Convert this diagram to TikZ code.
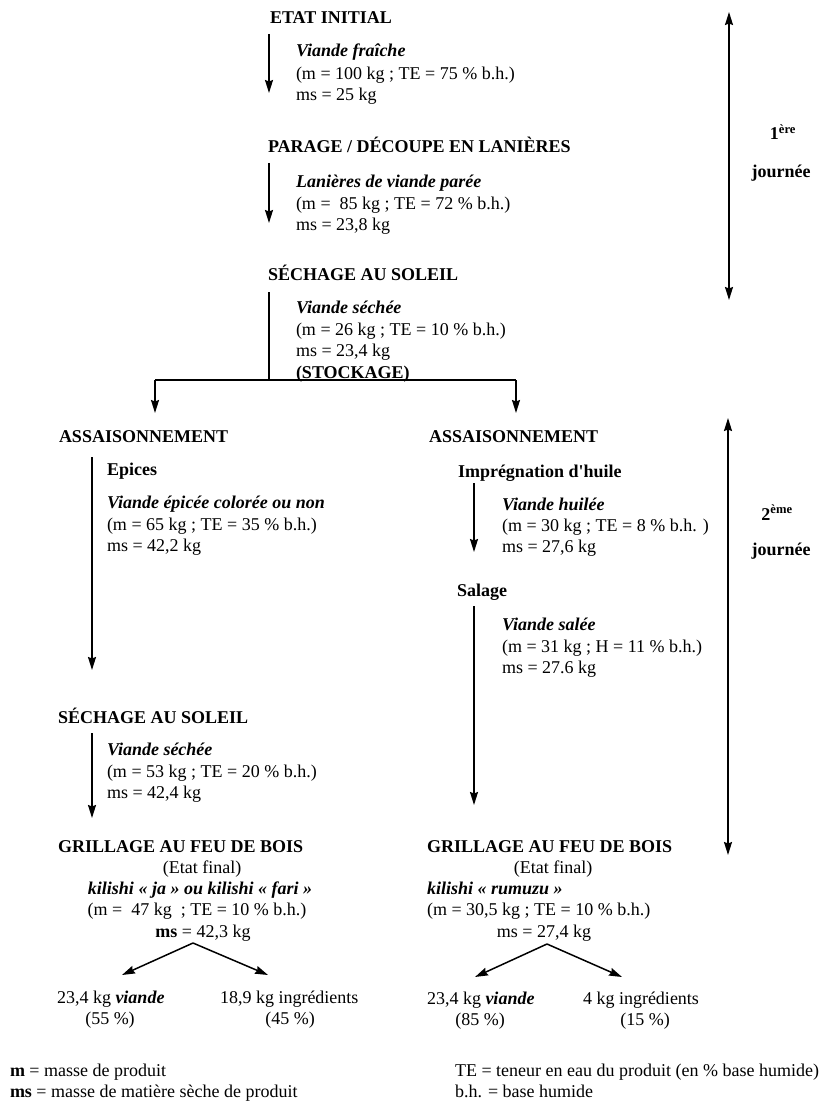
\documentclass[tikz,border=0pt]{standalone}
\usepackage{fontspec}
\setmainfont{Liberation Serif}
\usetikzlibrary{arrows.meta}
\begin{document}
\begin{tikzpicture}[x=1pt,y=-1pt,
  every node/.style={inner sep=0pt, outer sep=0pt},
  tx/.style={anchor=base west, font=\fontsize{18}{21}\selectfont},
  txc/.style={anchor=base, font=\fontsize{18}{21}\selectfont},
  hd/.style={anchor=base west, font=\fontsize{18}{21}\selectfont\bfseries},
  hdc/.style={anchor=base, font=\fontsize{18}{21}\selectfont\bfseries},
  pr/.style={anchor=base west, font=\fontsize{18}{21}\selectfont\bfseries\itshape},
  prc/.style={anchor=base, font=\fontsize{18}{21}\selectfont\bfseries\itshape},
  ft/.style={anchor=base west, font=\fontsize{18}{21}\selectfont},
  flow/.style={line width=1.5pt, -{Stealth[length=13pt,width=8pt,inset=1.5pt]}},
  ln/.style={line width=1.5pt},
  dbl/.style={line width=1.5pt, {Stealth[length=13pt,width=8pt,inset=1.5pt]}-{Stealth[length=13pt,width=8pt,inset=1.5pt]}}
]
\useasboundingbox[fill=white] (0,0) rectangle (835,1110);

% ---------- top column ----------
\node[hd] (s1) at (270,24) {ETAT INITIAL};
\node[pr] (p1) at (296,57) {Viande fraîche};
\node[tx] (p1a) at (296,80) {(m = 100 kg ; TE = 75 \% b.h.)};
\node[tx] (p1b) at (296,101) {ms = 25 kg};
\coordinate (a1s) at (269,34); \coordinate (a1e) at (269,93);
\draw[flow] (a1s) -- (a1e);

\node[hd] (s2) at (268,153) {PARAGE / DÉCOUPE EN LANIÈRES};
\node[pr] (p2) at (296,187) {Lanières de viande parée};
\node[tx] (p2a) at (296,209) {(m = ~85 kg ; TE = 72 \% b.h.)};
\node[tx] (p2b) at (296,230) {ms = 23,8 kg};
\coordinate (a2s) at (269,163); \coordinate (a2e) at (269,223);
\draw[flow] (a2s) -- (a2e);

\node[hd] (s3) at (268,280) {SÉCHAGE AU SOLEIL};
\node[pr] (p3) at (296,313) {Viande séchée};
\node[tx] (p3a) at (296,335) {(m = 26 kg ; TE = 10 \% b.h.)};
\node[tx] (p3b) at (296,356) {ms = 23,4 kg};
\node[hd] (p3c) at (296,378) {(STOCKAGE)};
\coordinate (a3s) at (269,292); \coordinate (br) at (269,380);
\coordinate (brL) at (155,380); \coordinate (brR) at (516,380);
\coordinate (brLe) at (155,413); \coordinate (brRe) at (516,413);
\draw[ln] (a3s) -- (br);
\draw[ln] (brL) -- (brR);
\draw[flow] (brL) -- (brLe);
\draw[flow] (brR) -- (brRe);

% ---------- day markers ----------
\coordinate (d1t) at (729,12); \coordinate (d1b) at (729,300);
\draw[dbl] (d1t) -- (d1b);
\node[hdc] (j1a) at (783,140) {1\textsuperscript{ère}};
\node[hdc] (j1b) at (781,178) {journée};
\coordinate (d2t) at (728,418); \coordinate (d2b) at (728,855);
\draw[dbl] (d2t) -- (d2b);
\node[hdc] (j2a) at (777,520) {2\textsuperscript{ème}};
\node[hdc] (j2b) at (781,555) {journée};

% ---------- left column ----------
\node[hd] (L1) at (59,442) {ASSAISONNEMENT};
\node[hd] (L1e) at (107,475) {Epices};
\node[pr] (L1p) at (107,508) {Viande épicée colorée ou non};
\node[tx] (L1a) at (107,530) {(m = 65 kg ; TE = 35 \% b.h.)};
\node[tx] (L1b) at (107,551) {ms = 42,2 kg};
\coordinate (La1s) at (92,457); \coordinate (La1e) at (92,670);
\draw[flow] (La1s) -- (La1e);

\node[hd] (L2) at (58,723) {SÉCHAGE AU SOLEIL};
\node[pr] (L2p) at (107,755) {Viande séchée};
\node[tx] (L2a) at (107,777) {(m = 53 kg ; TE = 20 \% b.h.)};
\node[tx] (L2b) at (107,798) {ms = 42,4 kg};
\coordinate (La2s) at (92,733); \coordinate (La2e) at (92,818);
\draw[flow] (La2s) -- (La2e);

\node[hd] (L3) at (58,852) {GRILLAGE AU FEU DE BOIS};
\node[txc] (L3f) at (202,873) {(Etat final)};
\node[prc] (L3p) at (200,894) {kilishi « ja » ou kilishi « fari »};
\node[txc] (L3a) at (197,915) {(m = ~47 kg ~; TE = 10 \% b.h.)};
\node[txc] (L3b) at (203,937) {\textbf{ms} = 42,3 kg};
\coordinate (Lsp) at (193,943);
\coordinate (LspL) at (122,975); \coordinate (LspR) at (268,975);
\draw[flow] (Lsp) -- (LspL);
\draw[flow] (Lsp) -- (LspR);
\node[tx] (L4a) at (57,1003) {23,4 kg \textbf{\textit{viande}}};
\node[txc] (L4b) at (110,1024) {(55 \%)};
\node[tx] (L5a) at (220,1003) {18,9 kg ingrédients};
\node[txc] (L5b) at (290,1024) {(45 \%)};

% ---------- right column ----------
\node[hd] (R1) at (429,442) {ASSAISONNEMENT};
\node[hd] (R1i) at (458,477) {Imprégnation d\textquotesingle huile};
\node[pr] (R1p) at (502,510) {Viande huilée};
\node[tx] (R1a) at (502,531) {(m = 30 kg ; TE = 8 \% b.h. )};
\node[tx] (R1b) at (502,552) {ms = 27,6 kg};
\coordinate (Ra1s) at (474,483); \coordinate (Ra1e) at (474,552);
\draw[flow] (Ra1s) -- (Ra1e);

\node[hd] (R2) at (457,596) {Salage};
\node[pr] (R2p) at (502,630) {Viande salée};
\node[tx] (R2a) at (502,652) {(m = 31 kg ; H = 11 \% b.h.)};
\node[tx] (R2b) at (502,673) {ms = 27.6 kg};
\coordinate (Ra2s) at (474,606); \coordinate (Ra2e) at (474,805);
\draw[flow] (Ra2s) -- (Ra2e);

\node[hd] (R3) at (427,852) {GRILLAGE AU FEU DE BOIS};
\node[txc] (R3f) at (553,873) {(Etat final)};
\node[pr] (R3p) at (427,894) {kilishi « rumuzu »};
\node[tx] (R3a) at (427,915) {(m = 30,5 kg ; TE = 10 \% b.h.)};
\node[txc] (R3b) at (544,937) {ms = 27,4 kg};
\coordinate (Rsp) at (547,944);
\coordinate (RspL) at (475,977); \coordinate (RspR) at (622,977);
\draw[flow] (Rsp) -- (RspL);
\draw[flow] (Rsp) -- (RspR);
\node[tx] (R4a) at (427,1004) {23,4 kg \textbf{\textit{viande}}};
\node[txc] (R4b) at (480,1025) {(85 \%)};
\node[tx] (R5a) at (583,1004) {4 kg ingrédients};
\node[txc] (R5b) at (645,1025) {(15 \%)};

% ---------- legend ----------
\node[ft] (f1) at (10,1076) {\textbf{m} = masse de produit};
\node[ft] (f2) at (10,1097) {\textbf{ms} = masse de matière sèche de produit};
\node[ft] (f3) at (455,1076) {TE = teneur en eau du produit (en \% base humide)};
\node[ft] (f4) at (455,1097) {b.h. = base humide};
\end{tikzpicture}
\end{document}
